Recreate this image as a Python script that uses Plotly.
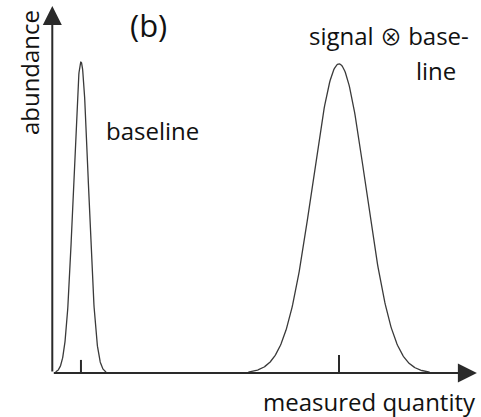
import numpy as np
import plotly.graph_objects as go

# Data
peak_names = ["baseline", "signal ⊗ baseline"]
peak_centers = [1.0, 10.0]
peak_widths = [0.26, 0.93]
peak_heights = [1.0, 0.994]

x_label = "measured quantity"
y_label = "abundance"
panel_label = "(b)"

FONT = "Open Sans"
TXT = "#111111"
LINE = "#2a2a2a"
FS = 24

fig = go.Figure()

for c, s, h in zip(peak_centers, peak_widths, peak_heights):
    xs = np.linspace(c - 3.4 * s, c + 3.4 * s, 300)
    ys = h * np.exp(-((xs - c) ** 2) / (2 * s * s))
    fig.add_trace(go.Scatter(x=xs, y=ys, mode="lines",
                             line=dict(color="#3a3a3a", width=1.3),
                             hoverinfo="skip", showlegend=False))

# small ticks marking the peak centres
tick_len = [0.042, 0.058]
tx, ty = [], []
for c, L in zip(peak_centers, tick_len):
    tx += [c, c, None]
    ty += [0, L, None]
fig.add_trace(go.Scatter(x=tx, y=ty, mode="lines",
                         line=dict(color=LINE, width=2),
                         hoverinfo="skip", showlegend=False))

x_end = 14.81
y_end = 1.18

otimes = '<span style="font-family:\'Noto Sans CJK JP\';font-size:22px">⊗</span>'

annotations = [
    # axes with arrow heads
    dict(x=x_end, y=0, ax=0, ay=0, xref="x", yref="y", axref="x", ayref="y",
         showarrow=True, arrowhead=2, arrowsize=1.9, arrowwidth=2,
         arrowcolor=LINE, text=""),
    dict(x=0, y=y_end, ax=0, ay=0, xref="x", yref="y", axref="x", ayref="y",
         showarrow=True, arrowhead=2, arrowsize=1.9, arrowwidth=2,
         arrowcolor=LINE, text=""),
    dict(x=3.37, y=1.119, text=panel_label, showarrow=False,
         font=dict(family=FONT, size=31, color=TXT)),
    dict(x=-0.77, y=0.965, text=y_label, showarrow=False, textangle=-90,
         font=dict(family=FONT, size=FS, color=TXT)),
    dict(x=3.48, y=0.781, text=peak_names[0], showarrow=False,
         font=dict(family=FONT, size=FS, color=TXT)),
    dict(x=11.75, y=1.084, text="signal " + otimes + " base-", showarrow=False,
         font=dict(family=FONT, size=FS, color=TXT)),
    dict(x=13.39, y=0.974, text="line", showarrow=False,
         font=dict(family=FONT, size=FS, color=TXT)),
    dict(x=11.06, y=-0.093, text=x_label, showarrow=False,
         font=dict(family=FONT, size=FS, color=TXT)),
]

fig.update_layout(
    width=481, height=417,
    margin=dict(l=0, r=0, t=0, b=0),
    paper_bgcolor="white", plot_bgcolor="white",
    xaxis=dict(range=[-1.824, 14.953], visible=False, fixedrange=True),
    yaxis=dict(range=[-0.1415, 1.1994], visible=False, fixedrange=True),
    annotations=annotations,
    showlegend=False,
)

fig.write_html("out.html")
